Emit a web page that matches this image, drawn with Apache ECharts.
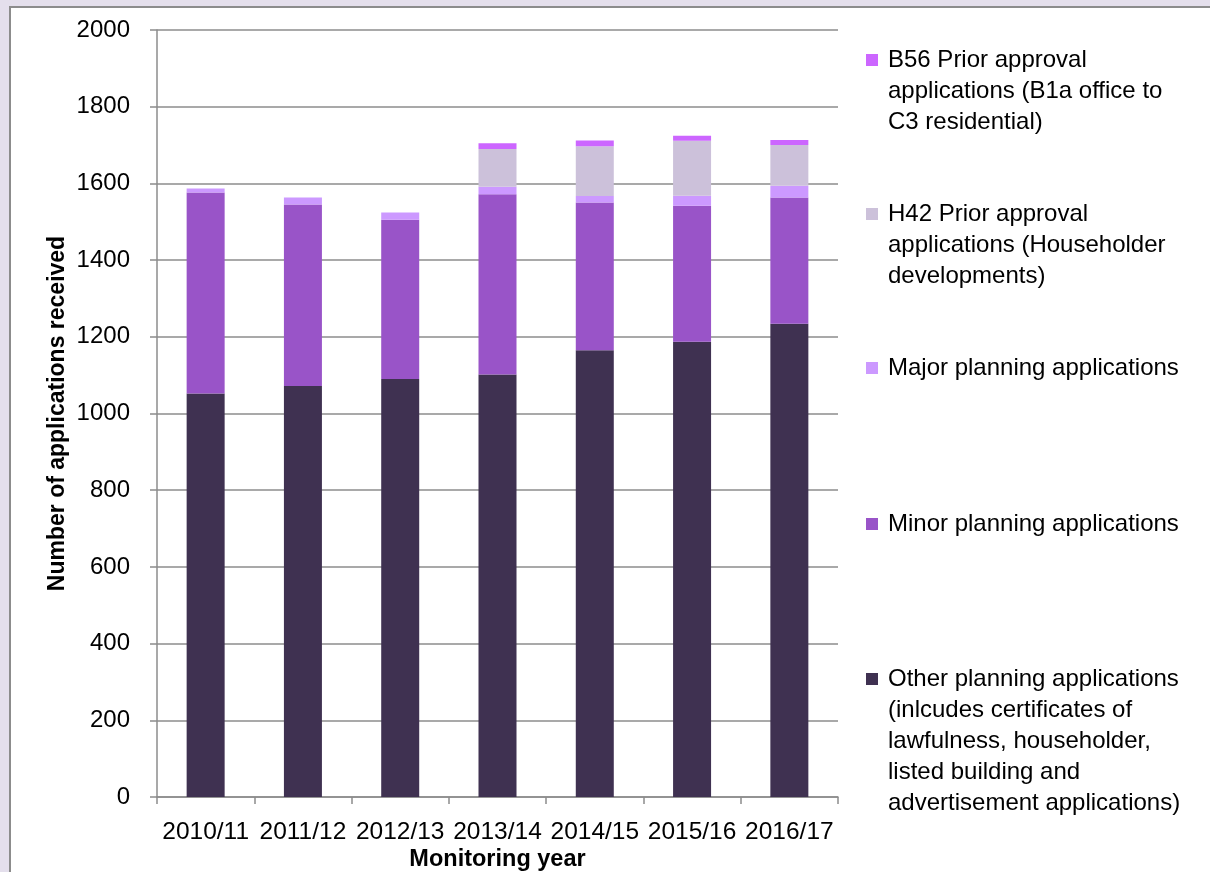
<!DOCTYPE html>
<html>
<head>
<meta charset="utf-8">
<script src="https://cdn.jsdelivr.net/npm/echarts@6/dist/echarts.min.js"></script>
<style>
html,body{margin:0;padding:0;background:#E4DFEC;}
#c{width:1210px;height:872px;}
</style>
</head>
<body>
<div id="c"></div>
<script>
const categories = ['2010/11','2011/12','2012/13','2013/14','2014/15','2015/16','2016/17'];
const otherApps = [1052,1072,1090,1102,1165,1187,1234];
const minorApps = [524,473,415,470,385,355,329];
const majorApps = [11,18,19,19,17,26,31];
const h42Apps = [0,0,0,99,130,143,106];
const b56Apps = [0,0,0,15,15,13,13];

const NAMES = {
  b56: 'B56 Prior approval applications (B1a office to C3 residential)',
  h42: 'H42 Prior approval applications (Householder developments)',
  major: 'Major planning applications',
  minor: 'Minor planning applications',
  other: 'Other planning applications (inlcudes certificates of lawfulness, householder, listed building and advertisement applications)'
};
const WRAPPED_LINES = {};
WRAPPED_LINES[NAMES.b56] = ['B56 Prior approval', 'applications (B1a office to', 'C3 residential)'];
WRAPPED_LINES[NAMES.h42] = ['H42 Prior approval', 'applications (Householder', 'developments)'];
WRAPPED_LINES[NAMES.major] = ['Major planning applications'];
WRAPPED_LINES[NAMES.minor] = ['Minor planning applications'];
WRAPPED_LINES[NAMES.other] = ['Other planning applications', '(inlcudes certificates of', 'lawfulness, householder,', 'listed building and', 'advertisement applications)'];

const FONT = 'Liberation Sans';
const LH = 31;
function legendFor(name, centerY) {
  const lines = WRAPPED_LINES[name];
  const n = lines.length;
  // leading blank lines so the icon (centred on the text block) sits beside the first line
  const text = new Array(n - 1).fill(' ').concat(lines).join('\n');
  return {
    data: [name],
    orient: 'vertical',
    left: 866,
    top: centerY - (2 * n - 1) * LH / 2,
    padding: 0,
    itemWidth: 12,
    itemHeight: 12,
    icon: 'rect',
    selectedMode: false,
    formatter: () => text,
    textStyle: {
      fontFamily: FONT, fontSize: 24, color: '#000', lineHeight: LH,
      padding: [0, 0, 0, 5]
    }
  };
}

const chart = echarts.init(document.getElementById('c'));
const barBase = { type: 'bar', stack: 'total', barWidth: 38 };
chart.setOption({
  backgroundColor: '#E4DFEC',
  animation: false,
  textStyle: { fontFamily: FONT },
  graphic: [{
    type: 'rect', silent: true, z: -100,
    shape: { x: 10, y: 7, width: 1400, height: 1000 },
    style: { fill: '#FFFFFF', stroke: '#8C8C8C', lineWidth: 2 }
  }],
  legend: [
    legendFor(NAMES.b56, 60),
    legendFor(NAMES.h42, 214),
    legendFor(NAMES.major, 368),
    legendFor(NAMES.minor, 524),
    legendFor(NAMES.other, 679)
  ],
  grid: { left: 157, right: 372, top: 30, bottom: 75, containLabel: false, outerBoundsMode: 'none' },
  xAxis: {
    type: 'category',
    data: categories,
    name: 'Monitoring year',
    nameLocation: 'middle',
    nameGap: 51,
    nameMoveOverlap: false,
    nameTextStyle: { fontFamily: FONT, fontSize: 23.5, fontWeight: 'bold', color: '#000' },
    axisLine: { lineStyle: { color: '#8C8C8C', width: 1.5 } },
    axisTick: { show: true, length: 7, lineStyle: { color: '#8C8C8C', width: 1.5 } },
    axisLabel: { fontFamily: FONT, fontSize: 24.5, color: '#000', margin: 23, interval: 0 }
  },
  yAxis: {
    type: 'value',
    min: 0, max: 2000, interval: 200,
    name: 'Number of applications received',
    nameLocation: 'middle',
    nameGap: 88,
    nameMoveOverlap: false,
    nameTextStyle: { fontFamily: FONT, fontSize: 23, fontWeight: 'bold', color: '#000' },
    axisLine: { show: true, lineStyle: { color: '#8C8C8C', width: 1.5 } },
    axisTick: { show: true, length: 7, lineStyle: { color: '#8C8C8C', width: 1.5 } },
    axisLabel: { fontFamily: FONT, fontSize: 24, color: '#000', margin: 27,
      formatter: v => String(v) },
    splitLine: { lineStyle: { color: '#8C8C8C', width: 1.5 } }
  },
  series: [
    Object.assign({}, barBase, { name: NAMES.other, data: otherApps, itemStyle: { color: '#3F3151' } }),
    Object.assign({}, barBase, { name: NAMES.minor, data: minorApps, itemStyle: { color: '#9954C8' } }),
    Object.assign({}, barBase, { name: NAMES.major, data: majorApps, itemStyle: { color: '#CC99FF' } }),
    Object.assign({}, barBase, { name: NAMES.h42, data: h42Apps, itemStyle: { color: '#CCC1DA' } }),
    Object.assign({}, barBase, { name: NAMES.b56, data: b56Apps, itemStyle: { color: '#CC66FF' } })
  ]
});
</script>
</body>
</html>
